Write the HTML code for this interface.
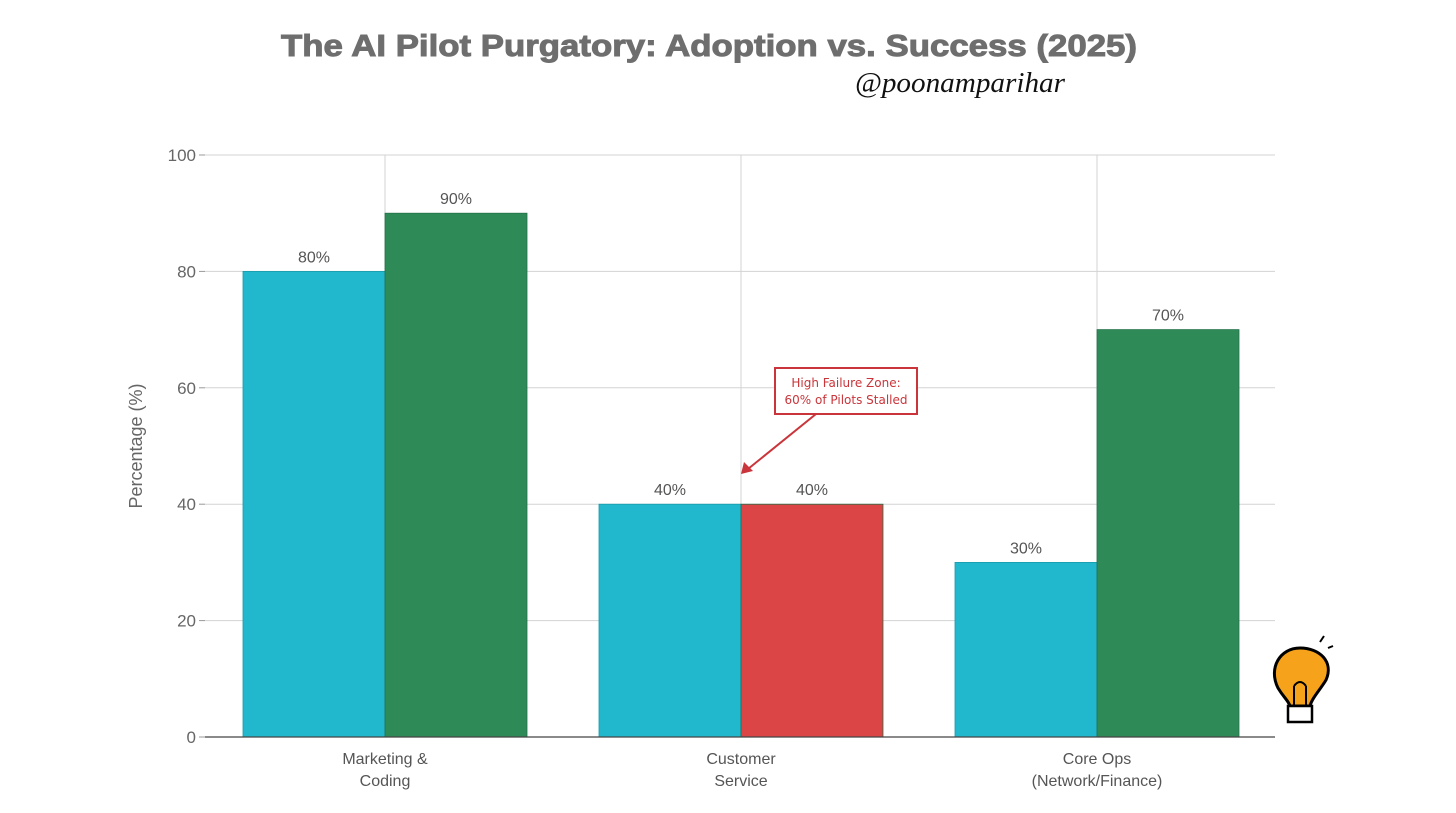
<!DOCTYPE html>
<html><head><meta charset="utf-8"><style>
body{margin:0;background:#fff;}
svg{display:block;font-family:"Liberation Sans",sans-serif;}
</style></head><body>
<svg id="chart" width="1456" height="813">
<text x="709" y="56" text-anchor="middle" font-size="31" font-weight="bold" fill="#6e6e6e" stroke="#6e6e6e" stroke-width="1" textLength="856" lengthAdjust="spacingAndGlyphs">The AI Pilot Purgatory: Adoption vs. Success (2025)</text>
<text x="960" y="92" text-anchor="middle" font-size="28" font-style="italic" fill="#111" font-family="'Liberation Serif',serif" textLength="210" lengthAdjust="spacingAndGlyphs">@poonamparihar</text>
<g id="grid"></g>
<g id="bars"></g>
<g id="labels"></g>
<text transform="translate(142,446) rotate(-90)" text-anchor="middle" font-size="18" fill="#666">Percentage (%)</text>
<g>
<rect x="775" y="368" width="142" height="46" fill="#fff" stroke="#c9353a" stroke-width="2"/>
<text x="846" y="387" text-anchor="middle" font-size="12" fill="#c9353a" font-family="'DejaVu Sans',sans-serif">High Failure Zone:</text>
<text x="846" y="404" text-anchor="middle" font-size="12" fill="#c9353a" font-family="'DejaVu Sans',sans-serif">60% of Pilots Stalled</text>
<line x1="816" y1="414" x2="748" y2="469" stroke="#c9353a" stroke-width="2"/>
<polygon points="741,474 744,462 753,471" fill="#c9353a"/>
</g>
<g>
<path d="M1300 648 C1280 648 1268 668 1278 688 C1284 698 1288 700 1290 706 L1310 706 C1312 698 1320 690 1326 680 C1334 662 1320 648 1300 648Z" fill="#f7a21b" stroke="#000" stroke-width="3"/>
<rect x="1288" y="706" width="24" height="16" fill="#fff" stroke="#000" stroke-width="2.5"/>
<path d="M1294 706 L1294 686 M1306 706 L1306 686 M1294 686 Q1300 678 1306 686" fill="none" stroke="#000" stroke-width="2"/>
<path d="M1320 642 L1324 636 M1328 648 L1333 646" stroke="#000" stroke-width="2"/>
</g>
</svg>
<script>
const categories=[["Marketing &","Coding"],["Customer","Service"],["Core Ops","(Network/Finance)"]];
const adoption=[80,40,30];
const success=[90,40,70];
const successColors=["#2e8b57","#db4545","#2e8b57"];
const yTicks=[0,20,40,60,80,100];
const NS="http://www.w3.org/2000/svg";
const x0=205,x1=1275,yBase=737,yTop=155,step=356,bw=142;
function y(v){return yBase-(v/100)*(yBase-yTop);}
function cx(i){return 385+i*step;}
function mk(tag,attrs,parent){const e=document.createElementNS(NS,tag);for(const k in attrs)e.setAttribute(k,attrs[k]);document.getElementById(parent).appendChild(e);return e;}
yTicks.forEach(t=>{
  if(t>0){const g=mk('line',{x1:x0,x2:x1,y1:y(t),y2:y(t),stroke:'#d3d3d3','stroke-width':1},'grid');
  
  }
  const tk=mk('line',{x1:x0-6,x2:x0,y1:y(t),y2:y(t),stroke:'#999'},'grid');
  
  
  const l=mk('text',{x:x0-9,y:y(t)+6,'text-anchor':'end','font-size':17,fill:'#666'},'grid');
  l.textContent=t;
  
  
});
categories.forEach((c,i)=>{
  const g=mk('line',{x1:cx(i),x2:cx(i),y1:yTop,y2:yBase,stroke:'#d3d3d3'},'grid');
  
  
  const a=mk('rect',{x:cx(i)-bw,y:y(adoption[i]),width:bw,height:yBase-y(adoption[i]),fill:'#21b8ce',stroke:'#1a9aab','stroke-width':0.8},'bars');
  
  
  const s=mk('rect',{x:cx(i),y:y(success[i]),width:bw,height:yBase-y(success[i]),fill:successColors[i],stroke:'#25704a','stroke-width':0.8},'bars');
  
  
  [[adoption[i],cx(i)-bw/2],[success[i],cx(i)+bw/2]].forEach(([v,xx])=>{
    const t=mk('text',{x:xx,y:y(v)-9,'text-anchor':'middle','font-size':16,fill:'#555'},'labels');
    t.textContent=v+'%';
    
    
  });
  c.forEach((line,j)=>{
    const t=mk('text',{x:cx(i),y:764+j*22,'text-anchor':'middle','font-size':16,fill:'#555'},'labels');
    t.textContent=line;
    
    
  });
});
const ax=mk('line',{x1:x0,x2:x1,y1:yBase,y2:yBase,stroke:'#444','stroke-width':1.2},'labels');


</script>
</body></html>
